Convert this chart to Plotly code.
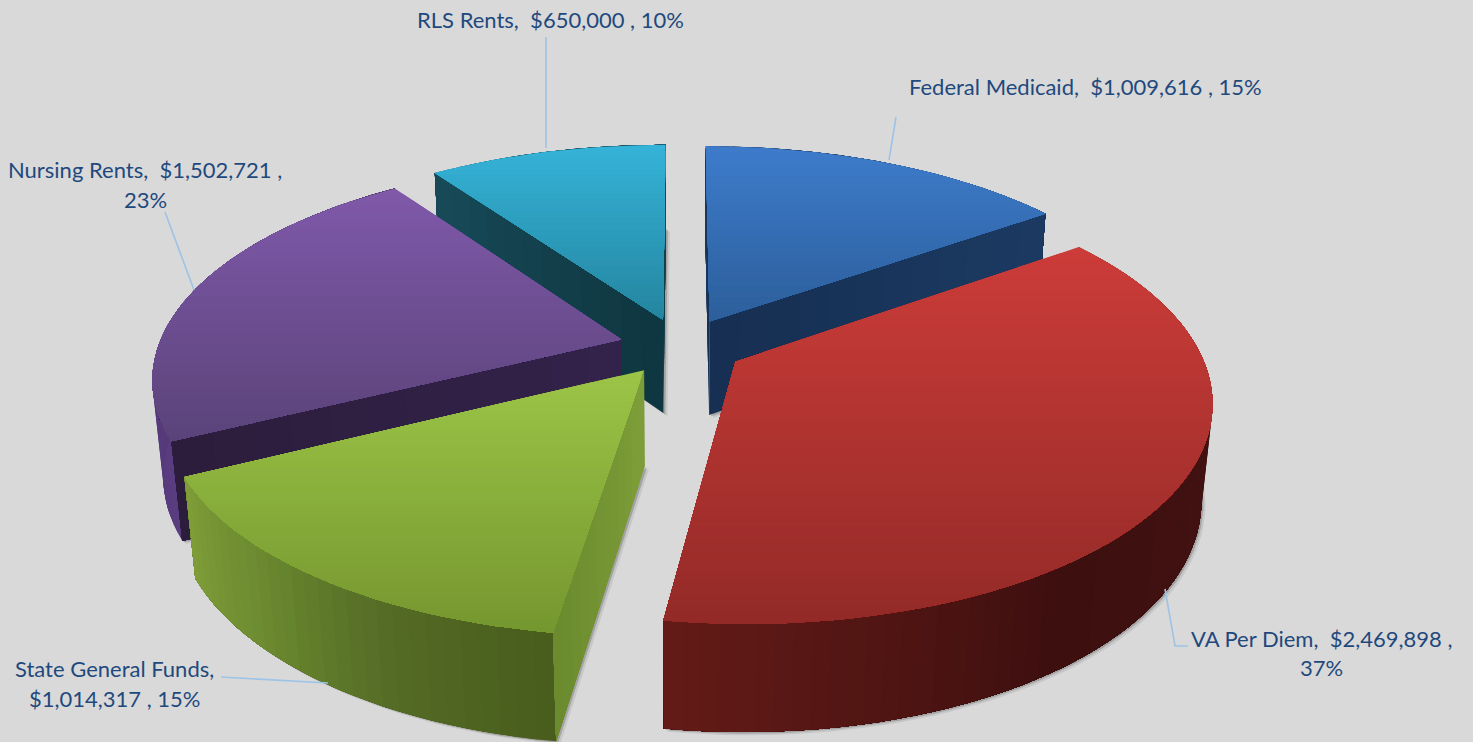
import math
import plotly.graph_objects as go

# ---- data ----
categories = ["Federal Medicaid", "VA Per Diem", "State General Funds", "Nursing Rents", "RLS Rents"]
amounts = [1009616, 2469898, 1014317, 1502721, 650000]
percents = [15, 37, 15, 23, 10]

# ---- projection of the tilted pie ----
CX, CY = 681.5, 346.5
F, D = 2454.0, 5.3
SIN = 0.459
COS = math.sqrt(1 - SIN * SIN)
EXPLODE, H = 0.135, 0.235


def proj(x, y, z=0.0):
    w = D - y * COS - z * SIN
    return CX + F * x / w, CY + F * (y * SIN - z * COS) / w


def hexrgb(h):
    return tuple(int(h[i:i + 2], 16) for i in (1, 3, 5))


def lerp(stops, t):
    t = max(0.0, min(1.0, t))
    n = len(stops) - 1
    i = min(int(t * n), n - 1)
    f = t * n - i
    a, b = hexrgb(stops[i]), hexrgb(stops[i + 1])
    return "rgb(%d,%d,%d)" % tuple(round(a[k] + (b[k] - a[k]) * f) for k in range(3))


STYLE = {
    "Federal Medicaid": dict(top=["#3d7bcb", "#2c5f9b"], wall=["#1a365d", "#1b3a62"], rad=["#1c3a62", "#162f52"], flip=False),
    "VA Per Diem": dict(top=["#cc3c39", "#932a27"], wall=["#641b17", "#3d0f0f", "#431312", "#4d1513"], rad=["#5a1a16", "#5a1a16"], flip=True),
    "State General Funds": dict(top=["#9cc547", "#75962f"], wall=["#7f9e38", "#6c8a30", "#546b25", "#485c1b"], rad=["#6a8a2e", "#7e9e3a"], flip=True),
    "Nursing Rents": dict(top=["#8059aa", "#5a4379"], wall=["#5a3d80", "#4a3268"], rad=["#2c1d3c", "#33224a"], flip=False),
    "RLS Rents": dict(top=["#35b3d8", "#24859f"], wall=["#164a58", "#174a58"], rad=["#174a58", "#0f3640"], flip=False),
}
DRAW_ORDER = ["Federal Medicaid", "RLS Rents", "Nursing Rents", "State General Funds", "VA Per Diem"]

traces = []


def poly(pts, color, lw=0.0):
    traces.append(go.Scatter(
        x=[p[0] for p in pts] + [pts[0][0]], y=[p[1] for p in pts] + [pts[0][1]],
        mode="lines", fill="toself", fillcolor=color,
        line=dict(color=color, width=lw),
        hoverinfo="skip", showlegend=False))


def clip_from(pts, y0):
    out = []
    for i, p in enumerate(pts):
        q = pts[(i + 1) % len(pts)]
        if p[1] >= y0:
            out.append(p)
        if (p[1] >= y0) != (q[1] >= y0):
            t = (y0 - p[1]) / (q[1] - p[1])
            out.append((p[0] + (q[0] - p[0]) * t, y0))
    return out


total = sum(amounts)
start = {}
acc = 0
for name, v in zip(categories, amounts):
    start[name] = (acc / total * 2 * math.pi, (acc + v) / total * 2 * math.pi)
    acc += v

for name in DRAW_ORDER:
    a0, a1 = start[name]
    st = STYLE[name]
    mid = (a0 + a1) / 2
    ox, oy = EXPLODE * math.sin(mid), -EXPLODE * math.cos(mid)
    n = max(12, int((a1 - a0) * 30))
    angs = [a0 + (a1 - a0) * i / n for i in range(n + 1)]
    rim = [(ox + math.sin(a), oy - math.cos(a)) for a in angs]

    # soft shadow from the bottom face
    bottom = [proj(ox, oy, -H)] + [proj(x, y, -H) for x, y in rim]
    for off, alpha in ((4.0, 0.12), (2.0, 0.28)):
        poly([(x + off, y + off * 0.8) for x, y in bottom], "rgba(70,70,70,%.2f)" % alpha)

    # outer wall: each strip paints over the rest, so no seams show
    for i in range(n):
        tail = rim[i:]
        pts = [proj(x, y) for x, y in tail] + [proj(x, y, -H) for x, y in reversed(tail)]
        t = (i + 0.5) / n
        poly(pts, lerp(st["wall"], 1 - t if st["flip"] else t))

    # radial walls facing the viewer
    for a, sgn in ((a0, -1), (a1, 1)):
        ex, ey = ox + math.sin(a), oy - math.cos(a)
        quad = [proj(ox, oy), proj(ex, ey), proj(ex, ey, -H), proj(ox, oy, -H)]
        area = sum(quad[i][0] * quad[(i + 1) % 4][1] - quad[(i + 1) % 4][0] * quad[i][1] for i in range(4))
        if area * sgn < 0:
            continue
        m = 12
        for j in range(m):
            f0 = j / m
            p0 = (ox + (ex - ox) * f0, oy + (ey - oy) * f0)
            poly([proj(*p0), proj(ex, ey), proj(ex, ey, -H), proj(p0[0], p0[1], -H)],
                 lerp(st["rad"], 1 - (j + 0.5) / m))

    # top face: vertical gradient, each band paints over the rest
    top = [proj(ox, oy)] + [proj(x, y) for x, y in rim]
    ys = [p[1] for p in top]
    ymin, ymax = min(ys), max(ys)
    bands = max(8, int((ymax - ymin) / 6))
    for b in range(bands):
        piece = clip_from(top, ymin + (ymax - ymin) * b / bands)
        if len(piece) >= 3:
            poly(piece, lerp(st["top"], (b + 0.5) / bands))

fig = go.Figure(traces)

# ---- leader lines ----
LEADER = "#9dc3e6"
leaders = {
    "Federal Medicaid": [(896, 117), (889, 160)],
    "VA Per Diem": [(1165, 589), (1175, 646), (1188, 646)],
    "State General Funds": [(221, 677), (328, 683)],
    "Nursing Rents": [(165, 212), (194, 290)],
    "RLS Rents": [(546, 37), (546, 148)],
}
for pts in leaders.values():
    fig.add_trace(go.Scatter(x=[p[0] for p in pts], y=[p[1] for p in pts], mode="lines",
                             line=dict(color=LEADER, width=1.6), hoverinfo="skip", showlegend=False))

# ---- labels ----
label = {c: (c, f"${a:,}", f"{p}%") for c, a, p in zip(categories, amounts, percents)}
NB = "\u00a0"


def text_lines(name):
    c, a, p = label[name]
    if name in ("Nursing Rents", "VA Per Diem"):
        return [f"{c},{NB}{NB}{a}{NB},", p]
    if name == "State General Funds":
        return [f"{c},", f"{a}{NB},{NB}{p}"]
    return [f"{c},{NB}{NB}{a}{NB},{NB}{p}"]


anchors = {
    "RLS Rents": (550, [19]),
    "Federal Medicaid": (1085, [86]),
    "Nursing Rents": (145, [169, 199]),
    "VA Per Diem": (1321, [638, 667]),
    "State General Funds": (114, [668, 698]),
}
for name, (ax, ys) in anchors.items():
    for line, y in zip(text_lines(name), ys):
        fig.add_annotation(x=ax, y=y, xref="x", yref="y", text=line, showarrow=False,
                           xanchor="center", yanchor="middle",
                           font=dict(family="Lato", size=22, color="#1f497d"))

fig.update_layout(
    width=1473, height=742, margin=dict(l=0, r=0, t=0, b=0),
    paper_bgcolor="#d9d9d9", plot_bgcolor="#d9d9d9", showlegend=False,
    xaxis=dict(range=[0, 1473], visible=False, fixedrange=True),
    yaxis=dict(range=[742, 0], visible=False, fixedrange=True),
)
fig.write_html("out.html", config=dict(displayModeBar=False),
               post_script="document.body.style.margin='0';document.body.style.overflow='hidden';")
